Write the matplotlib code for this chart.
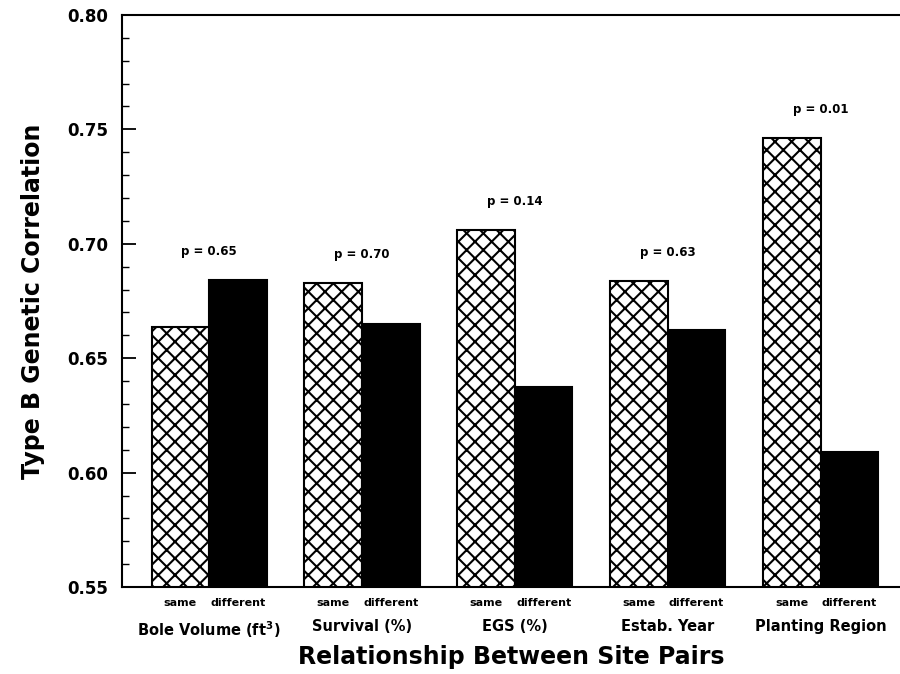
import matplotlib.pyplot as plt
import numpy as np

plt.rcParams['font.family'] = ['DejaVu Sans']
plt.rcParams['font.weight'] = 'bold'
plt.rcParams['hatch.linewidth'] = 1.5

# Data
groups = ["Bole Volume (ft$^\\mathbf{3}$)", "Survival (%)", "EGS (%)", "Estab. Year", "Planting Region"]
same = [0.6636, 0.6829, 0.7062, 0.6837, 0.7462]
different = [0.6842, 0.6650, 0.6374, 0.6623, 0.6090]
pvals = ["p = 0.65", "p = 0.70", "p = 0.14", "p = 0.63", "p = 0.01"]

x = np.arange(len(groups))
w = 0.377

fig = plt.figure(figsize=(9, 6.74), dpi=100)
ax = fig.add_axes([0.1356, 0.129, 0.8644, 0.8488])

ax.bar(x - w/2, same, w, color='white', edgecolor='black', hatch='xx', linewidth=1.5)
ax.bar(x + w/2, different, w, color='black', edgecolor='black', linewidth=1.5)

for i in range(len(groups)):
    top = max(same[i], different[i])
    ax.text(x[i], top + 0.0095, pvals[i], ha='center', va='bottom', fontsize=8.5, fontweight='bold')

ax.set_ylim(0.55, 0.80)
ax.set_xlim(-0.57, 4.52)

ax.set_yticks([0.55, 0.60, 0.65, 0.70, 0.75, 0.80])
ax.set_yticklabels(["0.55", "0.60", "0.65", "0.70", "0.75", "0.80"], fontsize=12, fontweight='bold')
ax.set_yticks(np.arange(0.55, 0.80, 0.01), minor=True)
ax.tick_params(axis='y', which='major', direction='in', length=10, width=1.3, pad=10)
ax.tick_params(axis='y', which='minor', direction='in', length=5, width=1.0)

# group labels on major ticks, same/different on minor ticks
ax.set_xticks(x)
ax.set_xticklabels(groups, fontsize=10.5, fontweight='bold')
ax.set_xticks(np.concatenate([x - w/2, x + w/2]), minor=True)
ax.set_xticklabels(["same"] * 5 + ["different"] * 5, minor=True, fontsize=8, fontweight='bold')
ax.tick_params(axis='x', which='major', length=0, pad=23)
ax.tick_params(axis='x', which='minor', length=0, pad=8)

ax.spines['right'].set_visible(False)
for s in ['left', 'top', 'bottom']:
    ax.spines[s].set_linewidth(1.5)

ax.set_ylabel("Type B Genetic Correlation", fontsize=17, fontweight='bold', labelpad=16)
ax.set_xlabel("Relationship Between Site Pairs", fontsize=17, fontweight='bold', labelpad=4)

plt.savefig('out.png', dpi=100)
